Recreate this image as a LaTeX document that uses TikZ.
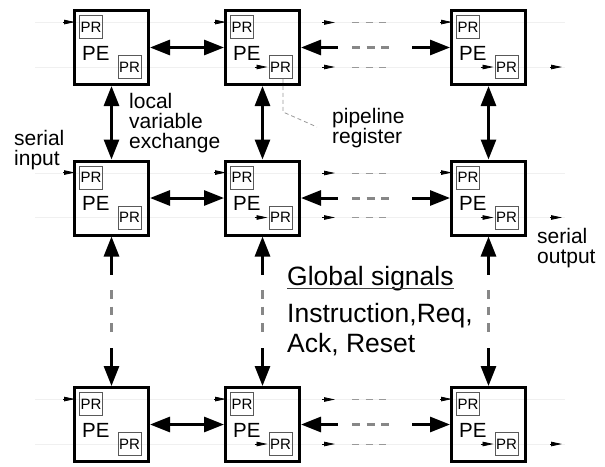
\documentclass[tikz,border=0pt]{standalone}
\usepackage{fontspec}
\setmainfont{Liberation Sans}
\usetikzlibrary{arrows.meta,calc}
\definecolor{dashgray}{gray}{0.53}
\definecolor{thingray}{gray}{0.6}
\definecolor{prgray}{gray}{0.35}
\definecolor{faintgray}{gray}{0.94}
\begin{document}
\begin{tikzpicture}[x=1pt,y=-1pt,
  pebox/.style={draw, line width=3pt, minimum width=74pt, minimum height=74pt, inner sep=0pt},
  prbox/.style={draw=prgray, line width=0.9pt, minimum width=23pt, minimum height=23pt, inner sep=0pt,
    font=\fontsize{15}{15}\selectfont},
  petext/.style={inner sep=0pt, anchor=base west, font=\fontsize{20.5}{20}\selectfont},
  label/.style={inner sep=0pt, anchor=north west, align=left, font=\fontsize{21}{20}\selectfont},
  bigarr/.style={line width=3pt, {Triangle[length=20pt,width=15pt]}-{Triangle[length=20pt,width=15pt]}},
  bigin/.style={line width=3pt, -{Triangle[length=20pt,width=15pt]}},
  bigout/.style={line width=3pt, {Triangle[length=20pt,width=15pt]}-},
  gdash/.style={line width=3pt, dashgray, dash pattern=on 8pt off 6.5pt},
  gdashv/.style={line width=3pt, dashgray, dash pattern=on 8.5pt off 8pt},
  tdash/.style={line width=1pt, thingray, dash pattern=on 7pt off 6.5pt},
  sarr/.style={line width=0.8pt, -{Triangle[length=11pt,width=4.5pt]}},
  faint/.style={line width=0.8pt, faintgray},
  leader/.style={line width=0.8pt, thingray, dash pattern=on 4pt off 3pt}]
\useasboundingbox (0,0) rectangle (605,466);

% faint signal lines
\foreach \cy in {47.5,198,424.5} {
  \draw[faint] (35,\cy-25) -- (565,\cy-25);
  \draw[faint] (35,\cy+19.5) -- (565,\cy+19.5);
}

% processing elements
\foreach \r/\cy in {1/47.5,2/198,3/424.5} {
  \foreach \c/\cx in {1/111.5,2/262.5,3/488.5} {
    \node[pebox] (b\r\c) at (\cx,\cy) {};
    \node[prbox] (pt\r\c) at (\cx-20.5,\cy-20.5) {PR};
    \node[prbox] (pb\r\c) at (\cx+18,\cy+19.5) {PR};
    \node[petext] (pe\r\c) at (\cx-29.5,\cy+12.5) {PE};
    \draw[sarr] ($(pt\r\c.north west)+(-16,7)$) -- ++(12,0);
  }
  % horizontal local exchange
  \draw[bigarr] (b\r1.east) -- (b\r2.west);
  \draw[bigout] (b\r2.east) -- ++(37,0);
  \draw[gdash] ($(b\r2.east)+(51,0)$) -- ++(40,0);
  \draw[bigin] ($(b\r3.west)+(-38,0)$) -- (b\r3.west);
  % pipeline signals
  \draw[sarr] ($(b\r2.east)+(21,-25)$) -- ++(13,0);
  \draw[sarr] ($(b\r2.east)+(21,19.5)$) -- ++(13,0);
  \draw[tdash] ($(b\r2.east)+(51,-25)$) -- ++(40,0);
  \draw[tdash] ($(b\r2.east)+(51,19.5)$) -- ++(40,0);
  \draw[sarr] ($(pb\r2.west)+(-14,0)$) -- ++(13,0);
  \draw[sarr] ($(pb\r3.west)+(-14,0)$) -- ++(13,0);
  \draw[sarr] ($(b\r3.east)+(23,19.5)$) -- ++(12,0);
}

% vertical local exchange
\foreach \c in {1,2,3} {
  \draw[bigarr] (b1\c.south) -- (b2\c.north);
  \draw[bigout] (b2\c.south) -- ++(0,38);
  \draw[gdashv] ($(b2\c.south)+(0,53.5)$) -- ++(0,42);
  \draw[bigin] ($(b3\c.north)+(0,-38)$) -- (b3\c.north);
}

% labels
\node[label] (lve) at (129,93) {local\\variable\\exchange};
\node[label] (sin) at (14,130) {serial\\input};
\node[label] (sout) at (537,228) {serial\\output};
\node[label] (preg) at (332,108) {pipeline\\register};
\coordinate (ld1) at (283,112);
\coordinate (ld2) at (317,127);
\draw[leader] (pb12.south -| ld1) -- (ld1) -- (ld2);

\node[inner sep=0pt, anchor=base west, font=\fontsize{26.5}{30}\selectfont] (gs) at (287,285) {Global signals};
\draw[line width=1.3pt, black!75] ($(gs.base west)+(0,3.5)$) -- ($(gs.base east)+(0,3.5)$);
\node[inner sep=0pt, anchor=north west, align=left, font=\fontsize{26.5}{30}\selectfont] (gsig) at (287,303) {Instruction,Req,\\Ack, Reset};
\end{tikzpicture}
\end{document}
